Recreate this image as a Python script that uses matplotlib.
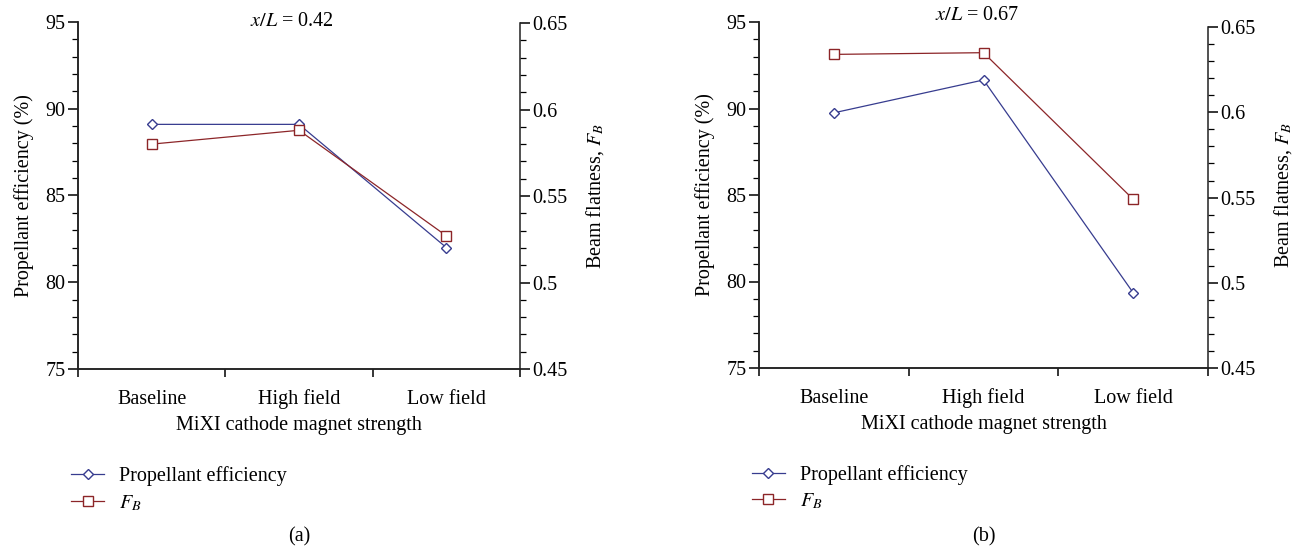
import numpy as np
import matplotlib
matplotlib.use("Agg")
import matplotlib.pyplot as plt
from matplotlib.ticker import MultipleLocator, FixedLocator, FixedFormatter
from matplotlib.lines import Line2D

plt.rcParams['font.family'] = ['Liberation Serif', 'DejaVu Serif']
plt.rcParams['mathtext.fontset'] = 'stix'

# data
categories = ["Baseline", "High field", "Low field"]
eff_a = [89.1, 89.1, 82.0]
fb_a = [0.580, 0.588, 0.527]
eff_b = [89.75, 91.65, 79.35]
fb_b = [0.634, 0.635, 0.549]
titles = [r"$x/L$ = 0.42", r"$x/L$ = 0.67"]
panel_tags = ["(a)", "(b)"]
left_ticks = [75, 80, 85, 90, 95]
right_ticks = [0.45, 0.5, 0.55, 0.6, 0.65]
right_labels = ["0.45", "0.5", "0.55", "0.6", "0.65"]

blue = "#373c8f"
red = "#8c2528"
fs = 14.5

fig = plt.figure(figsize=(12.99, 5.5), dpi=100)

# axes boxes in pixels: left, right, top, bottom
boxes = [(78, 520, 22, 369), (759, 1208, 22, 368)]
right_top = [0.6506, 0.653]
title_y = [1.0, 1.02]
series = [(eff_a, fb_a), (eff_b, fb_b)]

for i in range(2):
    l, r, t, b = boxes[i]
    ax = fig.add_axes([l / 1299, 1 - b / 550, (r - l) / 1299, (b - t) / 550])
    ax2 = ax.twinx()
    x = np.arange(len(categories)) + 0.5
    eff, fb = series[i]

    ax.plot(x, eff, color=blue, lw=0.9, marker='D', ms=5.5, mfc='white',
            mec=blue, mew=1.0, zorder=3)
    ax2.plot(x, fb, color=red, lw=0.9, marker='s', ms=6.5, mfc='white',
             mec=red, mew=1.0, zorder=3)

    ax.set_xlim(0, 3)
    ax.set_ylim(75, 95)
    ax2.set_ylim(0.45, right_top[i])

    ax.xaxis.set_major_locator(FixedLocator([0, 1, 2, 3]))
    ax.xaxis.set_major_formatter(FixedFormatter([]))
    ax.xaxis.set_minor_locator(FixedLocator(list(x)))
    ax.xaxis.set_minor_formatter(FixedFormatter(categories))
    ax.tick_params(axis='x', which='major', direction='out', length=6, width=1.1)
    ax.tick_params(axis='x', which='minor', length=0, labelsize=fs, pad=25)
    for lbl in ax.get_xticklabels(minor=True):
        lbl.set_verticalalignment('baseline')

    ax.set_yticks(left_ticks)
    ax.yaxis.set_minor_locator(MultipleLocator(1))
    ax.tick_params(axis='y', which='major', direction='out', length=7, width=1.1,
                   labelsize=fs, pad=2)
    ax.tick_params(axis='y', which='minor', direction='out', length=4, width=0.9)

    ax2.yaxis.set_major_locator(FixedLocator(right_ticks))
    ax2.yaxis.set_major_formatter(FixedFormatter(right_labels))
    ax2.yaxis.set_minor_locator(MultipleLocator(0.01))
    ax2.tick_params(axis='y', which='major', direction='out', length=7, width=1.1,
                    labelsize=fs, pad=2)
    ax2.tick_params(axis='y', which='minor', direction='out', length=4, width=0.9)

    for a in (ax, ax2):
        a.spines['top'].set_visible(False)
        for s in ('left', 'right', 'bottom'):
            a.spines[s].set_linewidth(1.1)
            a.spines[s].set_color('#222222')
    ax.spines['right'].set_visible(False)
    ax2.spines['right'].set_bounds(0.45, 0.65)

    ax.set_xlabel("MiXI cathode magnet strength", fontsize=fs, labelpad=5)
    ax.set_ylabel("Propellant efficiency (%)", fontsize=fs, labelpad=8)
    ax2.set_ylabel(r"Beam flatness, $F_B$", fontsize=fs, labelpad=12)
    ax.text(0.485, title_y[i], titles[i], transform=ax.transAxes, ha='center',
            va='center', fontsize=fs)

    handles = [
        Line2D([], [], color=blue, lw=0.9, marker='D', ms=5.5, mfc='white', mec=blue),
        Line2D([], [], color=red, lw=0.9, marker='s', ms=6.5, mfc='white', mec=red),
    ]
    ax.legend(handles, ["Propellant efficiency", r"$F_B$"], loc='upper left',
              bbox_to_anchor=(-0.016, -0.28), frameon=False, fontsize=fs,
              borderaxespad=0, borderpad=0, handlelength=1.65, handletextpad=0.75,
              labelspacing=0.35)

    fig.text(((l + r) / 2) / 1299, 1 - 537 / 550, panel_tags[i], ha='center',
             va='center', fontsize=fs)

fig.savefig("out.png", dpi=100)
